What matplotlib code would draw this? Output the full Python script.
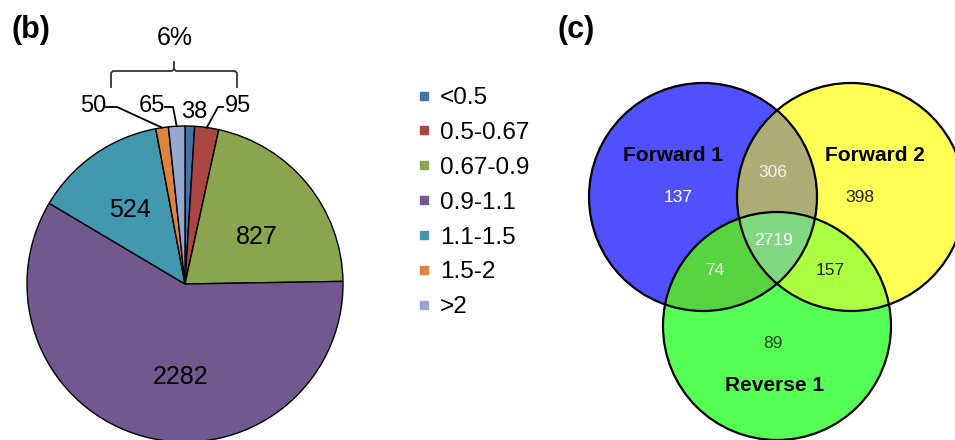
import numpy as np
import matplotlib
matplotlib.use('Agg')
import matplotlib.pyplot as plt
from matplotlib.patches import Circle
from matplotlib.lines import Line2D

plt.rcParams['font.family'] = ['Liberation Sans', 'DejaVu Sans']

# ---- panel (b): pie of ratio bins ----
bins = ['<0.5', '0.5-0.67', '0.67-0.9', '0.9-1.1', '1.1-1.5', '1.5-2', '>2']
counts = [38, 95, 827, 2282, 524, 50, 65]
pie_colors = ['#4572A7', '#AA4643', '#89A54E', '#71588F', '#4198AF', '#DB843D', '#93A9CF']
bracket_text = '6%'

# ---- panel (c): Venn of three runs ----
set_names = ['Forward 1', 'Forward 2', 'Reverse 1']
only_f1, only_f2, only_r1 = 137, 398, 89
f1_f2, f1_r1, f2_r1 = 306, 74, 157
all_three = 2719

W, H = 955, 440
fig = plt.figure(figsize=(W / 100, H / 100), dpi=100)
ax = fig.add_axes([0, 0, 1, 1])


def py(y):
    # pixel row (from top) -> data y
    return H - y


# pie
pc = (185, py(284))
R = 158
wedges, _ = ax.pie(counts, colors=pie_colors, startangle=90, counterclock=False,
                   center=pc, radius=R, frame=True,
                   wedgeprops=dict(edgecolor='black', linewidth=1.0))


def rim(w, frac=1.0):
    a = np.deg2rad((w.theta1 + w.theta2) / 2)
    return pc[0] + R * frac * np.cos(a), pc[1] + R * frac * np.sin(a)


big = {2: (257, 237), 3: (181, 377), 4: (130, 210)}
for i, (x, y) in big.items():
    ax.text(x, py(y), str(counts[i]), fontsize=18, ha='center', va='center')

# small slices, labels above with leader lines
small = {5: ((93, 106), [(106, 107), (117, 107)]),
         6: ((152, 106), [(165, 107), (173, 107)]),
         0: ((194, 112), []),
         1: ((238, 106), [(223, 107), (218, 107)])}
for i, ((x, y), pts) in small.items():
    ax.text(x, py(y), str(counts[i]), fontsize=17, ha='center', va='center')
    if pts:
        ex, ey = rim(wedges[i])
        xs = [p[0] for p in pts] + [ex]
        ys = [py(p[1]) for p in pts] + [ey]
        ax.plot(xs, ys, color='black', lw=1.3)

# bracket grouping the small slices
ax.plot([111, 111, 113, 172, 174, 176, 235, 237, 237],
        [py(87), py(73), py(71), py(71), py(69), py(71), py(71), py(73), py(87)],
        color='#333333', lw=1.3)
ax.plot([174, 174], [py(69), py(62)], color='#333333', lw=1.3)
ax.text(175, py(38), bracket_text, fontsize=18, ha='center', va='center')

handles = [Line2D([], [], ls='none', marker='s', markersize=6, color=c, label=b)
           for c, b in zip(pie_colors, bins)]
ax.legend(handles=handles, loc='upper left', bbox_to_anchor=(417, py(87)),
          bbox_transform=ax.transData, frameon=False, fontsize=17.5,
          handlelength=0.6, handletextpad=0.35, labelspacing=0.53,
          borderpad=0, borderaxespad=0)

ax.text(31, py(30), '(b)', fontsize=22, fontweight='bold', ha='center', va='center')

# Venn
cb, cy, cg = (703, py(197)), (851, py(197)), (777, py(326))
vr = 114
reg_col = {
    (1, 0, 0): '#5050FF', (0, 1, 0): '#FFFF55', (0, 0, 1): '#55FF55',
    (1, 1, 0): '#AEAE78', (1, 0, 1): '#58D540', (0, 1, 1): '#AAFF40',
    (1, 1, 1): '#82D882',
}
gx = np.arange(580, 970, 0.25)
gy = np.arange(0, 440, 0.25)
X, Y = np.meshgrid(gx, gy)
inb = (X - cb[0]) ** 2 + (Y - cb[1]) ** 2 <= vr ** 2
iny = (X - cy[0]) ** 2 + (Y - cy[1]) ** 2 <= vr ** 2
ing = (X - cg[0]) ** 2 + (Y - cg[1]) ** 2 <= vr ** 2
img = np.zeros(X.shape + (4,))
for key, col in reg_col.items():
    m = (inb == key[0]) & (iny == key[1]) & (ing == key[2])
    img[m] = matplotlib.colors.to_rgba(col)
ax.imshow(img, extent=(gx[0], gx[-1] + 0.25, gy[0], gy[-1] + 0.25),
          origin='lower', interpolation='bilinear', zorder=2)
for c in (cb, cy, cg):
    ax.add_patch(Circle(c, vr, fill=False, edgecolor='black', lw=1.6, zorder=3))

lab_kw = dict(fontsize=15, fontweight='bold', ha='center', va='center', zorder=4)
ax.text(673, py(155), set_names[0], **lab_kw)
ax.text(875, py(155), set_names[1], **lab_kw)
ax.text(775, py(385), set_names[2], **lab_kw)

num_kw = dict(fontsize=12.5, ha='center', va='center', zorder=4)
ax.text(678, py(197), str(only_f1), color='white', **num_kw)
ax.text(860, py(197), str(only_f2), color='#222222', **num_kw)
ax.text(773, py(343), str(only_r1), color='#224422', **num_kw)
ax.text(773, py(172), str(f1_f2), color='#F2F2F2', **num_kw)
ax.text(715, py(270), str(f1_r1), color='white', **num_kw)
ax.text(830, py(270), str(f2_r1), color='#222222', **num_kw)
ax.text(773, py(240), str(all_three), color='white', **num_kw)

ax.text(576, py(30), '(c)', fontsize=22, fontweight='bold', ha='center', va='center')

ax.set_xlim(0, W)
ax.set_ylim(0, H)
ax.set_aspect('auto')
ax.axis('off')

fig.savefig('out.png', dpi=100)
